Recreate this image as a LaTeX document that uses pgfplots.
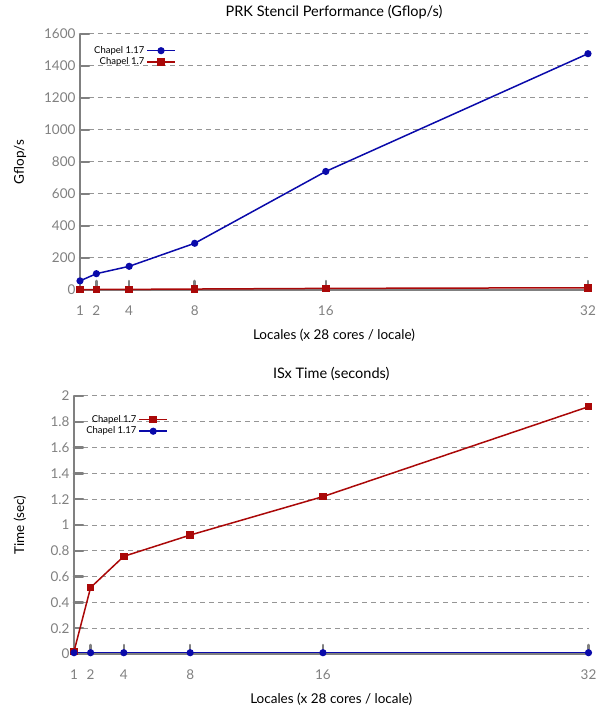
\documentclass[border=0pt]{standalone}
\usepackage{pgfplots}
\pgfplotsset{compat=1.18}
\usepackage{fontspec}
\setmainfont{Lato}
\definecolor{cblue}{RGB}{10,10,170}
\definecolor{cred}{RGB}{170,8,8}
\definecolor{axgray}{RGB}{128,128,128}
\definecolor{gridgray}{RGB}{150,150,150}
\pgfplotsset{
  mystyle/.style={
    scale only axis,
    axis x line=bottom, axis y line=left,
    axis line style={-, line width=2.5pt, color=axgray},
    xmin=1, xmax=32,
    xtick={1,2,4,8,16,32},
    tick style={line width=2.5pt, color=axgray, line cap=round},
    major tick length=9pt,
    tick align=inside,
    ymajorgrids,
    grid style={dash pattern=on 5pt off 4pt, line width=1pt, color=gridgray},
    tick label style={font=\fontsize{13.5}{16}\selectfont, text=axgray},
    /pgf/number format/assume math mode=true,
    /pgf/number format/1000 sep={},
    xticklabel style={yshift=-12pt},
    yticklabel style={xshift=-1pt},
    label style={font=\fontsize{13.5}{16}\selectfont},
    title style={font=\fontsize{14.5}{17}\selectfont, at={(axis description cs:0.5,1)}, anchor=center, yshift=16pt},
    xlabel style={at={(axis description cs:0.5,0)}, anchor=center, yshift=-45pt},
    every axis plot/.append style={line width=1.5pt},
    legend plot pos=right,
    legend cell align=right,
    legend style={draw=none, fill=none, inner sep=0pt, font=\fontsize{9.5}{11}\selectfont, anchor=north east, row sep=-1pt},
    legend image code/.code={\draw[mark repeat=2,mark phase=2] plot coordinates {(0pt,0pt) (14pt,0pt) (28pt,0pt)};},
    clip=false,
  },
  blueline/.style={color=cblue, mark=*, mark size=2.8pt, mark options={solid, fill=cblue}},
  redline/.style={color=cred, mark=square*, mark size=3pt, mark options={solid, fill=cred}},
}
\begin{document}
\begin{tikzpicture}[x=1pt,y=1pt]
\path[use as bounding box] (0,0) rectangle (607,710);
\begin{axis}[mystyle,
  at={(80pt,420pt)}, anchor=south west,
  width=508pt, height=256pt,
  ymin=0, ymax=1600, ytick={0,200,...,1600},
  title={PRK Stencil Performance (Gflop/s)},
  xlabel={Locales (x 28 cores / locale)},
  ylabel={Gflop/s},
  ylabel style={at={(axis description cs:-0.118,0.5)}, anchor=center},
  legend style={at={(axis description cs:0.189,0.96)}},
]
\addplot[blueline] coordinates {(1,57) (2,102) (4,148) (8,292) (16,741) (32,1477)};
\addlegendentry{Chapel 1.17}
\addplot[redline] coordinates {(1,2) (2,3) (4,4) (8,6) (16,10) (32,14)};
\addlegendentry{Chapel 1.7}
\end{axis}
\begin{axis}[mystyle,
  at={(74pt,56pt)}, anchor=south west,
  width=514.5pt, height=258pt,
  ymin=0, ymax=2, ytick={0,0.2,...,2.01},
  title={ISx Time (seconds)},
  xlabel={Locales (x 28 cores / locale)},
  ylabel={Time (sec)},
  ylabel style={at={(axis description cs:-0.105,0.5)}, anchor=center},
  legend style={at={(axis description cs:0.183,0.933)}},
]
\addplot[redline] coordinates {(1,0.02) (2,0.515) (4,0.757) (8,0.922) (16,1.22) (32,1.917)};
\addlegendentry{Chapel 1.7}
\addplot[blueline] coordinates {(1,0.01) (2,0.01) (4,0.01) (8,0.01) (16,0.01) (32,0.01)};
\addlegendentry{Chapel 1.17}
\end{axis}
\end{tikzpicture}
\end{document}
